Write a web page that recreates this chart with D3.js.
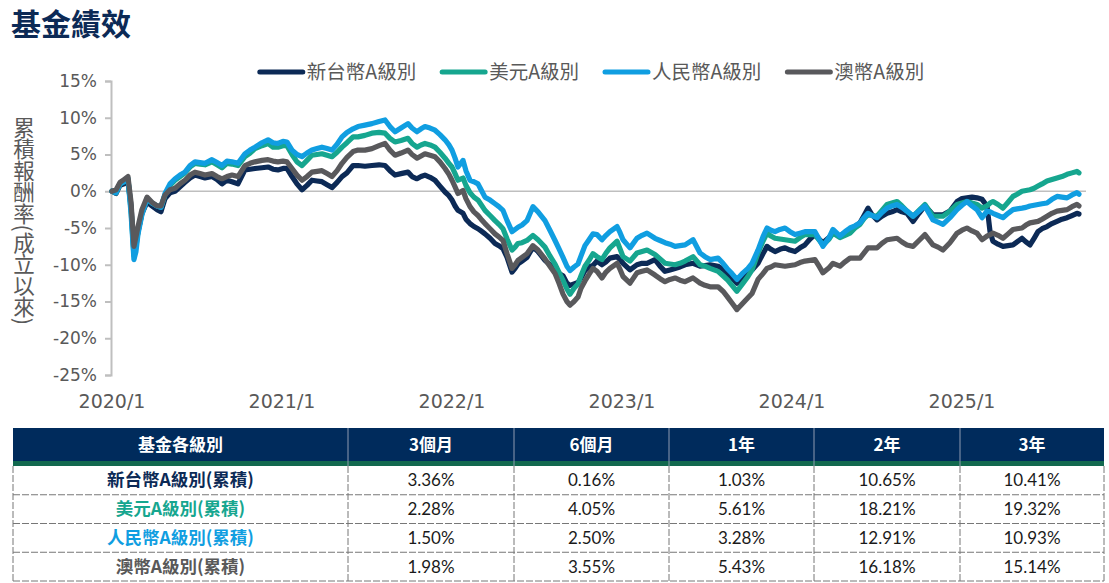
<!DOCTYPE html>
<html>
<head>
<meta charset="utf-8">
<script src="https://cdn.jsdelivr.net/npm/d3@7"></script>
<style>
  body { margin: 0; background: #fff; }
  svg { display: block; }
</style>
</head>
<body>
<svg id="chart" width="1109" height="583"></svg>
<script>
// time as decimal years, values in %
const years = [
  2020.000, 2020.024, 2020.047, 2020.071, 2020.094, 2020.112, 2020.129, 2020.141, 2020.153, 2020.176,
  2020.206, 2020.235, 2020.265, 2020.288, 2020.312, 2020.341, 2020.371, 2020.400, 2020.429, 2020.459,
  2020.488, 2020.518, 2020.547, 2020.588, 2020.618, 2020.647, 2020.676, 2020.706, 2020.741, 2020.782,
  2020.812, 2020.841, 2020.882, 2020.918, 2020.947, 2020.976, 2021.006, 2021.029, 2021.059, 2021.088,
  2021.118, 2021.147, 2021.176, 2021.206, 2021.235, 2021.265, 2021.294, 2021.324, 2021.353, 2021.382,
  2021.418, 2021.447, 2021.488, 2021.529, 2021.571, 2021.606, 2021.635, 2021.665, 2021.700, 2021.741,
  2021.765, 2021.794, 2021.818, 2021.841, 2021.871, 2021.900, 2021.929, 2021.959, 2021.982, 2022.000,
  2022.018, 2022.035, 2022.065, 2022.082, 2022.106, 2022.129, 2022.153, 2022.171, 2022.194, 2022.224,
  2022.253, 2022.276, 2022.300, 2022.324, 2022.353, 2022.371, 2022.388, 2022.412, 2022.441, 2022.476,
  2022.506, 2022.547, 2022.576, 2022.606, 2022.629, 2022.653, 2022.676, 2022.694, 2022.718, 2022.741,
  2022.759, 2022.782, 2022.806, 2022.829, 2022.853, 2022.882, 2022.906, 2022.929, 2022.971, 2022.988,
  2023.006, 2023.047, 2023.088, 2023.118, 2023.147, 2023.194, 2023.224, 2023.253, 2023.282, 2023.312,
  2023.341, 2023.371, 2023.418, 2023.459, 2023.488, 2023.518, 2023.565, 2023.594, 2023.618, 2023.647,
  2023.676, 2023.712, 2023.741, 2023.765, 2023.800, 2023.829, 2023.853, 2023.876, 2023.900, 2023.929,
  2023.959, 2023.988, 2024.018, 2024.047, 2024.076, 2024.106, 2024.135, 2024.159, 2024.182, 2024.218,
  2024.241, 2024.282, 2024.312, 2024.341, 2024.371, 2024.400, 2024.424, 2024.447, 2024.471, 2024.500,
  2024.529, 2024.559, 2024.588, 2024.618, 2024.647, 2024.676, 2024.712, 2024.747, 2024.782, 2024.806,
  2024.829, 2024.859, 2024.888, 2024.929, 2024.971, 2025.000, 2025.029, 2025.059, 2025.088, 2025.118,
  2025.147, 2025.165, 2025.182, 2025.212, 2025.241, 2025.271, 2025.300, 2025.324, 2025.353, 2025.376,
  2025.400, 2025.424, 2025.447, 2025.471, 2025.500, 2025.529, 2025.559, 2025.588, 2025.618, 2025.647,
  2025.676, 2025.688
];

const twdA = [
  0, -0.3, 0.8, 1.0, 1.4, -2.0, -8.3, -7.0, -5.5, -3.0,
  -1.5, -2.0, -2.5, -2.8, -1.0, -0.2, 0.0, 0.6, 1.2, 1.8,
  2.2, 2.0, 1.8, 2.0, 1.6, 1.0, 1.5, 1.3, 1.0, 2.9,
  3.0, 3.1, 3.2, 3.3, 3.0, 2.9, 3.1, 3.1, 2.0, 1.0,
  0.2, 0.8, 1.5, 1.4, 1.3, 0.9, 0.5, 1.2, 2.0, 2.5,
  3.5, 3.5, 3.4, 3.5, 3.6, 3.5, 2.8, 2.2, 2.4, 2.6,
  2.0, 1.7, 2.0, 2.2, 1.9, 1.5, 0.7, -0.1, -0.6, -1.2,
  -2.0, -2.6, -3.0, -3.8, -4.4, -4.8, -5.1, -5.4, -5.8, -6.4,
  -7.1, -7.4, -7.8, -9.0, -11.0, -10.5, -9.9, -9.5, -9.0, -7.6,
  -8.2, -9.4, -10.0, -10.8, -11.2, -11.5, -12.5, -12.8, -12.6, -12.4,
  -11.8, -10.8, -10.3, -10.1, -9.5, -10.0, -9.6, -9.1, -8.9, -9.3,
  -9.8, -10.7, -10.0, -9.8, -9.8, -9.3, -10.2, -10.9, -10.7, -10.5,
  -10.3, -10.0, -9.8, -10.2, -10.1, -10.0, -10.2, -10.6, -11.1, -11.8,
  -12.5, -11.6, -11.2, -10.7, -9.8, -8.5, -7.5, -7.9, -8.2, -7.9,
  -7.7, -8.0, -8.2, -7.7, -7.3, -6.5, -5.9, -6.5, -7.0, -6.3,
  -5.7, -6.1, -5.6, -5.2, -4.8, -4.3, -3.3, -2.3, -3.2, -3.9,
  -3.4, -3.0, -2.8, -2.5, -2.8, -3.0, -4.1, -3.0, -2.0, -2.6,
  -3.2, -3.2, -3.2, -2.7, -1.4, -1.0, -0.9, -0.8, -0.9, -1.1,
  -2.0, -5.5, -6.8, -7.2, -7.5, -7.4, -7.3, -6.9, -6.4, -6.9,
  -7.3, -6.4, -5.5, -5.1, -4.8, -4.4, -4.1, -3.8, -3.6, -3.3,
  -3.0, -3.1
];

const usdA = [
  0, -0.2, 1.0, 1.3, 1.7, -2.5, -8.8, -7.5, -5.5, -3.0,
  -1.0, -1.6, -2.0, -2.2, -0.5, 0.8, 1.5, 2.0, 2.5, 3.3,
  3.8, 3.7, 3.6, 4.0, 3.6, 3.2, 3.8, 3.7, 3.5, 4.7,
  5.2, 5.8, 6.2, 6.5, 6.0, 6.0, 6.2, 6.2, 5.0, 4.0,
  3.5, 4.2, 4.9, 5.0, 5.1, 4.9, 4.7, 5.3, 6.0, 6.6,
  7.4, 7.4, 7.6, 7.9, 8.0, 7.9, 7.2, 6.7, 6.9, 7.2,
  6.5, 6.0, 6.3, 6.5, 6.3, 6.0, 5.3, 4.5, 3.8, 3.3,
  2.4, 1.5, 1.8, 0.8, -0.2, -0.8, -1.2, -1.8, -2.6, -3.3,
  -4.0, -4.5, -5.1, -6.5, -8.0, -7.6, -7.1, -7.0, -6.7, -6.0,
  -6.6, -7.6, -8.8, -9.9, -11.0, -12.1, -13.3, -14.0, -13.2, -12.6,
  -11.5, -10.2, -9.4, -8.5, -8.9, -9.3, -8.4, -7.7, -6.8, -7.8,
  -8.9, -9.5, -8.4, -8.2, -8.0, -8.6, -9.2, -9.8, -9.9, -10.0,
  -9.8, -9.5, -8.9, -10.0, -10.2, -10.5, -10.9, -11.5, -12.0, -12.8,
  -13.6, -12.5, -11.6, -10.7, -8.4, -6.8, -5.7, -6.1, -6.4, -6.5,
  -6.6, -6.7, -6.8, -6.3, -5.9, -5.9, -5.9, -6.6, -7.3, -6.5,
  -5.7, -6.3, -6.0, -5.7, -5.0, -4.5, -3.7, -3.2, -3.3, -3.4,
  -2.6, -1.8, -1.6, -1.4, -2.0, -2.7, -3.4, -2.6, -1.8, -2.6,
  -3.4, -3.4, -3.4, -2.7, -1.8, -1.6, -1.4, -1.6, -1.8, -2.3,
  -2.0, -1.6, -1.4, -1.8, -2.3, -1.5, -0.7, -0.4, 0.0, 0.1,
  0.2, 0.4, 0.7, 1.0, 1.4, 1.6, 1.8, 2.0, 2.3, 2.5,
  2.7, 2.5
];

const cnyA = [
  0, -0.2, 1.0, 1.3, 1.7, -3.0, -9.3, -8.2, -5.8, -3.2,
  -1.0, -1.6, -2.0, -2.2, -0.3, 1.0, 1.7, 2.2, 2.6, 3.5,
  4.0, 3.9, 3.8, 4.3, 3.9, 3.5, 4.1, 4.0, 3.8, 5.1,
  5.6, 6.0, 6.6, 7.0, 6.6, 6.5, 6.8, 6.7, 5.6, 5.0,
  4.7, 5.2, 5.6, 5.8, 6.0, 5.8, 5.6, 6.4, 7.4, 8.0,
  8.5, 8.8, 9.0, 9.2, 9.5, 9.7, 8.8, 8.1, 8.6, 9.2,
  8.6, 8.1, 8.5, 8.8, 8.6, 8.3, 7.7, 7.0, 6.3, 5.6,
  4.5, 3.3, 4.2, 2.8, 1.5, 1.3, 1.0, 0.2, -0.8, -1.2,
  -1.7, -2.1, -2.6, -4.0, -5.5, -5.2, -4.9, -4.6, -4.0, -2.1,
  -2.8, -4.0, -5.3, -6.7, -7.8, -9.0, -10.2, -10.8, -10.3, -9.9,
  -8.8, -7.4, -6.6, -5.8, -5.9, -6.6, -6.0, -5.5, -4.8, -5.6,
  -6.6, -7.7, -6.4, -6.0, -5.7, -6.4, -6.7, -7.0, -7.2, -7.5,
  -7.4, -7.3, -6.6, -8.4, -8.9, -9.3, -9.1, -9.8, -10.5, -11.2,
  -12.0, -11.1, -10.5, -9.8, -8.0, -6.2, -5.0, -5.3, -5.5, -5.2,
  -5.0, -5.5, -5.9, -5.7, -5.5, -5.5, -5.5, -6.5, -7.5, -6.3,
  -5.2, -6.1, -5.5, -5.0, -4.7, -4.3, -3.6, -3.0, -3.3, -3.6,
  -2.9, -2.3, -2.0, -1.8, -2.2, -2.7, -3.4, -2.7, -2.0, -3.0,
  -3.9, -4.2, -4.5, -3.6, -2.5, -1.9, -1.4, -2.0, -2.5, -3.6,
  -2.7, -2.8, -3.0, -3.3, -3.6, -3.0, -2.5, -2.4, -2.3, -2.2,
  -2.0, -1.9, -1.8, -1.7, -1.6, -1.1, -0.7, -0.8, -0.9, -0.5,
  -0.2, -0.4
];

const audA = [
  0, 0.2, 1.2, 1.6, 2.0, -1.5, -7.5, -6.2, -4.8, -2.5,
  -0.8, -1.5, -2.0, -2.0, -0.5, 0.2, 0.4, 1.0, 1.5, 2.2,
  2.6, 2.4, 2.2, 2.4, 2.0, 1.7, 2.0, 2.2, 2.0, 3.5,
  3.8, 4.0, 4.2, 4.3, 4.1, 4.0, 4.1, 4.0, 3.1, 2.2,
  1.5, 2.0, 2.6, 2.7, 2.8, 2.4, 2.0, 2.8, 3.8, 4.6,
  5.4, 5.6, 5.6, 5.8, 6.2, 6.5, 5.6, 4.9, 5.2, 5.6,
  5.0, 4.5, 4.8, 5.1, 4.9, 4.7, 4.0, 3.1, 2.3, 1.5,
  0.6, -0.3, 0.1, -1.0, -2.1, -2.8, -3.3, -3.8, -4.4, -5.1,
  -5.8, -6.2, -6.7, -8.5, -10.5, -10.0, -9.4, -9.0, -8.5, -7.4,
  -8.0, -9.2, -10.2, -11.2, -12.5, -14.0, -15.0, -15.5, -15.0, -14.4,
  -13.2, -12.2, -11.3, -10.5, -10.9, -11.8, -11.0, -10.5, -9.8, -10.6,
  -11.6, -12.5, -11.1, -10.9, -10.7, -11.4, -11.9, -12.3, -12.0, -11.8,
  -12.1, -12.3, -11.8, -12.5, -12.8, -13.0, -13.0, -13.6, -14.3, -15.2,
  -16.1, -15.2, -14.5, -13.9, -12.0, -11.2, -10.5, -10.3, -10.0, -10.1,
  -10.2, -10.1, -10.0, -9.7, -9.5, -9.4, -9.3, -10.2, -11.1, -10.4,
  -9.8, -10.2, -9.6, -9.1, -9.1, -9.1, -8.4, -7.7, -7.7, -7.7,
  -7.1, -6.6, -6.5, -6.4, -6.9, -7.3, -7.5, -6.7, -5.9, -6.6,
  -7.3, -7.6, -8.0, -7.0, -5.7, -5.3, -5.0, -5.4, -5.7, -6.6,
  -6.1, -5.9, -5.7, -6.0, -6.4, -5.8, -5.2, -5.1, -5.0, -4.6,
  -4.3, -4.2, -4.1, -3.8, -3.4, -3.0, -2.7, -2.6, -2.5, -2.1,
  -1.8, -2.0
];

const seriesNames = ["新台幣A級別", "美元A級別", "人民幣A級別", "澳幣A級別"];
const seriesValues = [twdA, usdA, cnyA, audA];
const seriesColors = ["#0c2a56", "#16a68f", "#109ee1", "#59595c"];

const yTicks = [15, 10, 5, 0, -5, -10, -15, -20, -25];
const xTicks = [2020, 2021, 2022, 2023, 2024, 2025];

const tableHeader = ["基金各級別", "3個月", "6個月", "1年", "2年", "3年"];
const tableLabels = ["新台幣A級別(累積)", "美元A級別(累積)", "人民幣A級別(累積)", "澳幣A級別(累積)"];
const tableValues = [
  ["3.36%", "0.16%", "1.03%", "10.65%", "10.41%"],
  ["2.28%", "4.05%", "5.61%", "18.21%", "19.32%"],
  ["1.50%", "2.50%", "3.28%", "12.91%", "10.93%"],
  ["1.98%", "3.55%", "5.43%", "16.18%", "15.14%"]
];

const svg = d3.select("#chart");
const cjk = "'Noto Sans CJK TC', 'Noto Sans', sans-serif";
const axisGray = "#bfbfbf";
const textGray = "#595959";

// title
svg.append("text")
  .attr("x", 11).attr("y", 35)
  .attr("font-family", cjk).attr("font-weight", 700).attr("font-size", 30)
  .attr("fill", "#0c2a56")
  .text("基金績效");

// scales
const x = d3.scaleLinear().domain([2020, 2025]).range([112, 962]);
const y = d3.scaleLinear().domain([-25, 15]).range([375, 81]);

// y axis
const yAxis = svg.append("g")
  .attr("transform", "translate(111,0)")
  .call(d3.axisLeft(y).tickValues(yTicks).tickSize(6).tickPadding(8).tickFormat(d => d + "%"));
yAxis.select(".domain").attr("stroke", axisGray).attr("stroke-width", 2);
yAxis.selectAll(".tick line").attr("stroke", axisGray).attr("stroke-width", 2);
yAxis.selectAll(".tick text")
  .attr("font-family", "'DejaVu Sans', sans-serif").attr("font-size", 17)
  .attr("fill", textGray);

// y title (vertical)
svg.append("text")
  .attr("x", 24).attr("y", 221)
  .attr("text-anchor", "middle")
  .style("writing-mode", "vertical-rl")
  .attr("font-family", cjk).attr("font-size", 21.5)
  .attr("fill", textGray)
  .text("累積報酬率(成立以來)");

// x labels
svg.append("g").selectAll("text")
  .data(xTicks)
  .join("text")
  .attr("x", d => x(d)).attr("y", 408)
  .attr("text-anchor", "middle")
  .attr("font-family", "'DejaVu Sans', sans-serif").attr("font-size", 19)
  .attr("fill", textGray)
  .text(d => d + "/1");

// zero line
svg.append("line")
  .attr("x1", x(2020)).attr("x2", 1086)
  .attr("y1", y(0)).attr("y2", y(0))
  .attr("stroke", axisGray).attr("stroke-width", 1.6);

// lines
const line = d3.line()
  .x((d, i) => x(years[i]))
  .y(d => y(d));

svg.append("g").selectAll("path")
  .data(seriesValues)
  .join("path")
  .attr("d", d => line(d))
  .attr("fill", "none")
  .attr("stroke", (d, i) => seriesColors[i])
  .attr("stroke-width", 5.2)
  .attr("stroke-linejoin", "round")
  .attr("stroke-linecap", "round");

// legend
const legend = svg.append("g");
let lx = 0;
seriesNames.forEach((name, i) => {
  const g = legend.append("g").attr("transform", `translate(${lx},0)`);
  g.append("line")
    .attr("x1", 2).attr("x2", 45).attr("y1", 0).attr("y2", 0)
    .attr("stroke", seriesColors[i]).attr("stroke-width", 5)
    .attr("stroke-linecap", "round");
  const t = g.append("text")
    .attr("x", 49).attr("y", 7)
    .attr("font-family", cjk).attr("font-size", 19.5)
    .attr("fill", textGray)
    .text(name);
  lx += 49 + t.node().getComputedTextLength() + 24;
});
const legendWidth = lx - 24;
legend.attr("transform", `translate(${591 - legendWidth / 2},72)`);

// table
const colEdges = [13, 348, 514, 669, 814, 960, 1104];
const headTop = 428, headBottom = 461, greenBottom = 466, rowH = 28.75;
const labelColors = seriesColors.map((c, i) => i === 3 ? "#595959" : c);
const table = svg.append("g");

table.append("rect")
  .attr("x", colEdges[0]).attr("y", headTop)
  .attr("width", colEdges[6] - colEdges[0]).attr("height", headBottom - headTop)
  .attr("fill", "#002b5c");
table.append("rect")
  .attr("x", colEdges[0]).attr("y", headBottom)
  .attr("width", colEdges[6] - colEdges[0]).attr("height", greenBottom - headBottom)
  .attr("fill", "#12694f");

table.selectAll(".hsep")
  .data(colEdges.slice(1, 6))
  .join("line")
  .attr("x1", d => d).attr("x2", d => d)
  .attr("y1", headTop).attr("y2", greenBottom)
  .attr("stroke", "#8e9bb0").attr("stroke-width", 1);

table.selectAll(".htext")
  .data(tableHeader)
  .join("text")
  .attr("x", (d, i) => (colEdges[i] + colEdges[i + 1]) / 2)
  .attr("y", (headTop + headBottom) / 2 + 6)
  .attr("text-anchor", "middle")
  .attr("font-family", cjk).attr("font-weight", 700).attr("font-size", 17)
  .attr("fill", "#fff")
  .text(d => d);

// dashed grid
const rowLines = d3.range(tableLabels.length + 1).map(i => greenBottom + i * rowH);
table.selectAll(".rline")
  .data(rowLines.slice(1))
  .join("line")
  .attr("x1", colEdges[0]).attr("x2", colEdges[6])
  .attr("y1", d => d).attr("y2", d => d)
  .attr("stroke", "#777").attr("stroke-width", 1)
  .attr("stroke-dasharray", "7,2");
table.selectAll(".cline")
  .data(colEdges)
  .join("line")
  .attr("x1", d => d).attr("x2", d => d)
  .attr("y1", greenBottom).attr("y2", rowLines[rowLines.length - 1])
  .attr("stroke", "#777").attr("stroke-width", 1)
  .attr("stroke-dasharray", "7,2");

tableLabels.forEach((label, r) => {
  const cy = greenBottom + r * rowH + rowH / 2 + 6;
  table.append("text")
    .attr("x", (colEdges[0] + colEdges[1]) / 2).attr("y", cy)
    .attr("text-anchor", "middle")
    .attr("font-family", cjk).attr("font-weight", 700).attr("font-size", 17.5)
    .attr("fill", labelColors[r])
    .text(label);
  tableValues[r].forEach((v, c) => {
    table.append("text")
      .attr("x", (colEdges[c + 1] + colEdges[c + 2]) / 2).attr("y", cy)
      .attr("text-anchor", "middle")
      .attr("font-family", "Lato, 'Open Sans', sans-serif").attr("font-size", 17)
      .attr("fill", "#1a1a1a")
      .text(v);
  });
});
</script>
</body>
</html>
